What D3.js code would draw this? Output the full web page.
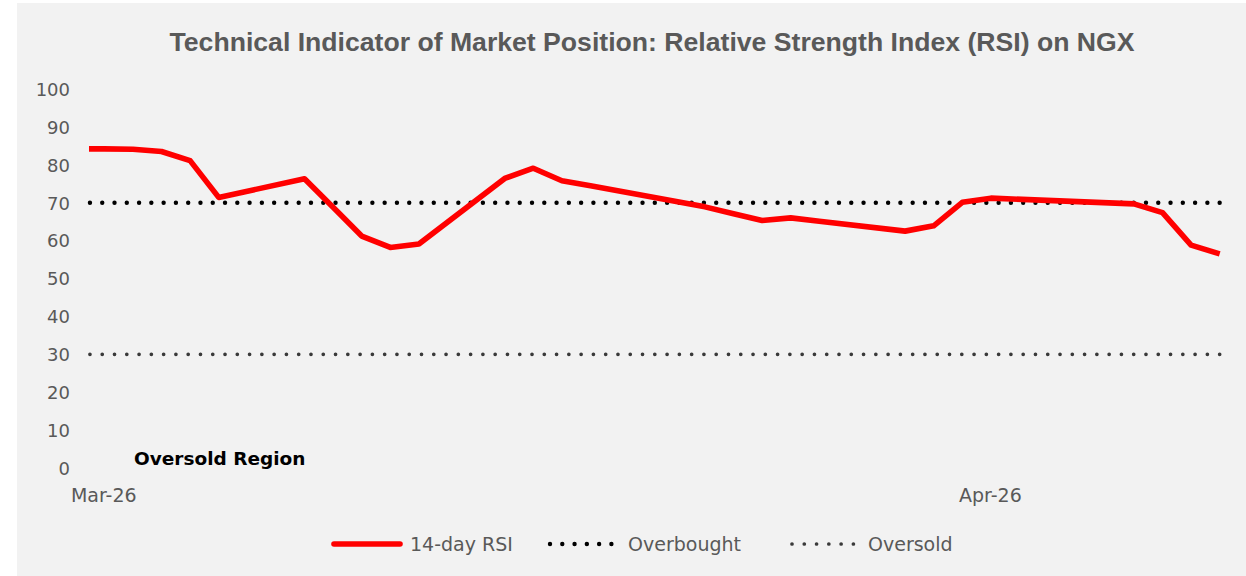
<!DOCTYPE html>
<html>
<head>
<meta charset="utf-8">
<script src="https://cdn.jsdelivr.net/npm/d3@7"></script>
<style>
  html, body { margin: 0; padding: 0; background: #ffffff; }
  svg { display: block; }
</style>
</head>
<body>
<div id="chart"></div>
<script>
// 14-day RSI on NGX, trading days only (weekends + Easter holidays skipped)
const dates = [
  "2026-02-27", "2026-03-02", "2026-03-03", "2026-03-04", "2026-03-05", "2026-03-06",
  "2026-03-09", "2026-03-10", "2026-03-11", "2026-03-12", "2026-03-13",
  "2026-03-16", "2026-03-17", "2026-03-18", "2026-03-19",
  "2026-03-23", "2026-03-24", "2026-03-25", "2026-03-26", "2026-03-27",
  "2026-03-30", "2026-03-31", "2026-04-01", "2026-04-02",
  "2026-04-07", "2026-04-08", "2026-04-09", "2026-04-10"
];
const rsi = [
  84.2, 84.2, 84.1, 83.5, 81.1, 71.4,
  76.3, 68.8, 61.2, 58.2, 59.1,
  76.4, 79.1, 75.8, 74.5,
  68.9, 67.1, 65.3, 66.0, 65.1,
  62.5, 63.9, 70.1, 71.2,
  69.7, 67.4, 58.8, 56.5
];
const overbought = dates.map(() => 70);
const oversold = dates.map(() => 30);

const yTicks = [0, 10, 20, 30, 40, 50, 60, 70, 80, 90, 100];
const xTickDates = ["2026-03-02", "2026-04-02"];

const titleText = "Technical Indicator of Market Position: Relative Strength Index (RSI) on NGX";
const seriesNames = ["14-day RSI", "Overbought", "Oversold"];
const noteText = "Oversold Region";

// --- colours / fonts ---
const BG = "#f2f2f2";
const TEXT = "#595959";
const RED = "#ff0000";
const OB_DOT = "#000000";
const OS_DOT = "#3a3a3a";
const FONT = "'DejaVu Sans', Verdana, sans-serif";
const TITLE_FONT = "'Liberation Sans', Arial, sans-serif";

const W = 1246, H = 576;
const parse = d3.utcParse("%Y-%m-%d");
const dateObjs = dates.map(parse);
const tickObjs = xTickDates.map(parse);

const svg = d3.select("#chart").append("svg")
  .attr("width", W).attr("height", H)
  .style("font-family", FONT);

// chart area background
svg.append("rect")
  .attr("x", 17).attr("y", 3)
  .attr("width", W - 17).attr("height", H - 3)
  .attr("fill", BG);

// --- scales: slots are "between tick marks", half a day either side ---
const plotLeft = 90, plotRight = 1234;
const x = d3.scaleUtc()
  .domain([d3.utcHour.offset(tickObjs[0], -12), d3.utcHour.offset(dateObjs[dateObjs.length - 1], 12)])
  .range([plotLeft, plotRight]);
const y = d3.scaleLinear().domain([0, 100]).range([468, 89]);

// --- title, fitted to the original width ---
const title = svg.append("text")
  .attr("x", 652).attr("y", 51)
  .attr("text-anchor", "middle")
  .attr("fill", TEXT)
  .attr("font-weight", "bold")
  .attr("font-size", 24)
  .style("font-family", TITLE_FONT)
  .text(titleText);
const tw = title.node().getComputedTextLength();
title.attr("font-size", 24 * 965 / tw);

// --- axes ---
const yAxis = svg.append("g")
  .attr("transform", `translate(${plotLeft - 20},0)`)
  .call(d3.axisLeft(y).tickValues(yTicks).tickSize(0).tickPadding(0));
const xAxis = svg.append("g")
  .attr("transform", "translate(0,495)")
  .call(d3.axisBottom(x).tickValues(tickObjs).tickFormat(d3.utcFormat("%b-%y")).tickSize(0).tickPadding(0));
[yAxis, xAxis].forEach((g) => {
  g.select(".domain").remove();
  g.selectAll("text")
    .attr("fill", TEXT)
    .style("font-family", FONT);
});
yAxis.selectAll("text").attr("dy", "0.35em").style("font-size", "18px");
xAxis.selectAll("text").attr("dy", "0.35em").attr("y", 0).attr("dx", -1).style("font-size", "19px");

// --- clipping to the plot area ---
const defs = svg.append("defs");
defs.append("clipPath").attr("id", "clip-line")
  .append("rect").attr("x", plotLeft - 1).attr("y", 60).attr("width", plotRight - plotLeft).attr("height", 420);
defs.append("clipPath").attr("id", "clip-dots")
  .append("rect").attr("x", plotLeft - 3).attr("y", 60).attr("width", plotRight - plotLeft).attr("height", 420);

const line = d3.line().x((d) => x(d[0])).y((d) => y(d[1]));
const xEnd = x(dateObjs[dateObjs.length - 1]);
const DOT_GAP = (xEnd - plotLeft) / 92;
const dashOffset = x(dateObjs[0]) - plotLeft + 0.05; // first dot lands on the plot edge

const addDotted = (vals, color, w) => {
  svg.append("path")
    .datum(dateObjs.map((d, i) => [d, vals[i]]))
    .attr("clip-path", "url(#clip-dots)")
    .attr("d", line)
    .attr("fill", "none")
    .attr("stroke", color)
    .attr("stroke-width", w)
    .attr("stroke-linecap", "round")
    .attr("stroke-dasharray", `0.01 ${DOT_GAP - 0.01}`)
    .attr("stroke-dashoffset", dashOffset);
};
addDotted(oversold, OS_DOT, 3.7);
addDotted(overbought, OB_DOT, 4.4);

svg.append("path")
  .datum(dateObjs.map((d, i) => [d, rsi[i]]))
  .attr("clip-path", "url(#clip-line)")
  .attr("d", line)
  .attr("fill", "none")
  .attr("stroke", RED)
  .attr("stroke-width", 5.6)
  .attr("stroke-linejoin", "round");

// annotation
svg.append("text")
  .attr("x", 134).attr("y", 465)
  .attr("fill", "#000000")
  .attr("font-weight", "bold")
  .attr("font-size", 18.5)
  .text(noteText);

// --- legend ---
const legendY = 544;
const legend = svg.append("g");
legend.append("line")
  .attr("x1", 334).attr("x2", 400).attr("y1", legendY).attr("y2", legendY)
  .attr("stroke", RED).attr("stroke-width", 5.6).attr("stroke-linecap", "round");
[[550, OB_DOT, 4.4], [792, OS_DOT, 3.7]].forEach(([x0, c, w]) => {
  legend.append("line")
    .attr("x1", x0).attr("x2", x0 + DOT_GAP * 5 + 0.1).attr("y1", legendY).attr("y2", legendY)
    .attr("stroke", c).attr("stroke-width", w).attr("stroke-linecap", "round")
    .attr("stroke-dasharray", `0.01 ${DOT_GAP - 0.01}`);
});
[410, 628, 868].forEach((lx, i) => {
  legend.append("text")
    .attr("x", lx).attr("y", legendY)
    .attr("dy", "0.35em")
    .attr("fill", TEXT)
    .attr("font-size", 19)
    .text(seriesNames[i]);
});
</script>
</body>
</html>
